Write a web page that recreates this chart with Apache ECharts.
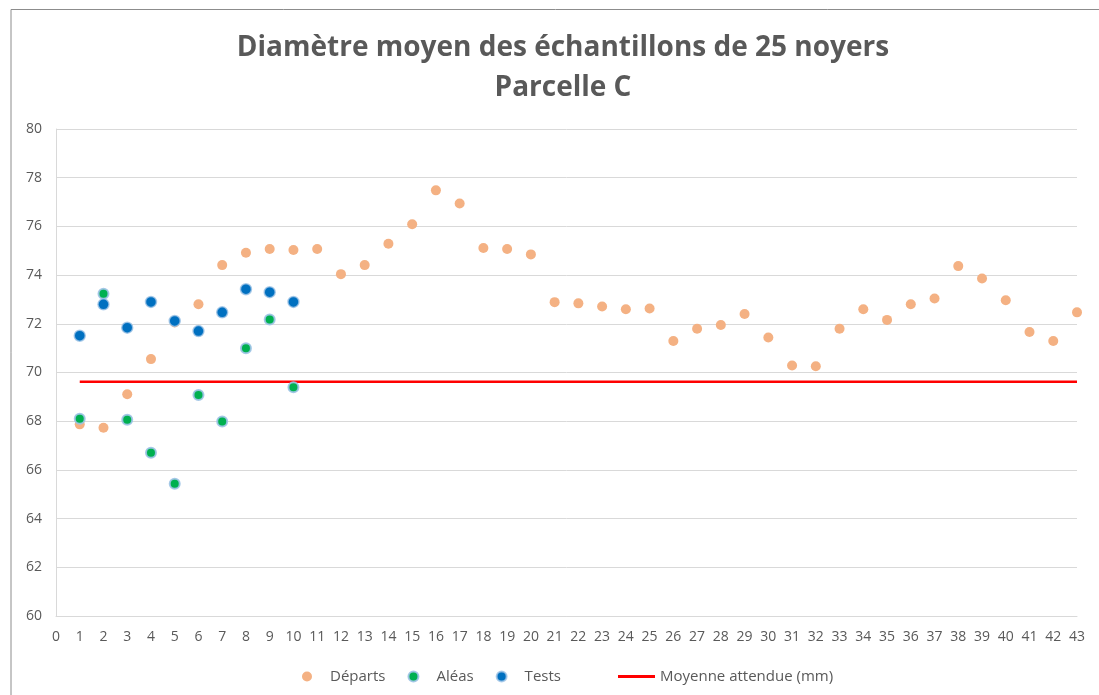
<!DOCTYPE html>
<html>
<head>
<meta charset="utf-8">
<script src="https://cdn.jsdelivr.net/npm/echarts@6/dist/echarts.min.js"></script>
<style>
  html, body { margin: 0; padding: 0; background: #fff; }
  #chart { width: 1099px; height: 695px; }
</style>
</head>
<body>
<div id="chart"></div>
<script>
// Diamètre moyen - parcelle C
const departsX = [1,2,3,4,5,6,7,8,9,10,11,12,13,14,15,16,17,18,19,20,21,22,23,24,25,26,27,28,29,30,31,32,33,34,35,36,37,38,39,40,41,42,43];
const departs = [67.87,67.73,69.11,70.55,72.05,72.80,74.41,74.92,75.07,75.03,75.07,74.04,74.41,75.29,76.09,77.48,76.94,75.11,75.07,74.85,72.89,72.84,72.71,72.60,72.63,71.29,71.80,71.95,72.40,71.44,70.29,70.26,71.80,72.60,72.16,72.80,73.04,74.37,73.86,72.97,71.66,71.29,72.47];
const aleasX = [1,2,3,4,5,6,7,8,9,10];
const aleas = [68.10,73.23,68.06,66.70,65.43,69.08,67.99,71.00,72.18,69.39];
const testsX = [1,2,3,4,5,6,7,8,9,10];
const tests = [71.51,72.80,71.84,72.90,72.12,71.70,72.47,73.42,73.30,72.90];
const moyenneX = [1, 43];
const moyenne = [69.62, 69.62];

const pairs = (xs, ys) => xs.map((x, i) => [x, ys[i]]);

const textColor = "#595959";
const font = "'Open Sans', 'Noto Sans', sans-serif";
const legendText = { fontFamily: font, fontSize: 15, color: textColor };

const chart = echarts.init(document.getElementById("chart"));
chart.setOption({
  animation: false,
  backgroundColor: "#fff",
  title: {
    text: "Diamètre moyen des échantillons de 25 noyers\nParcelle C",
    left: 558,
    textAlign: "center",
    top: 23,
    textStyle: {
      fontFamily: font,
      fontSize: 28,
      fontWeight: "bold",
      color: textColor,
      lineHeight: 40,
    },
  },
  graphic: [
    {
      type: "polyline",
      shape: { points: [[11, 700], [11, 9.5], [1110, 9.5]] },
      style: { stroke: "#8c8c8c", lineWidth: 1, fill: null },
    },
  ],
  grid: { left: 56, right: 22, top: 129, bottom: 79, containLabel: false },
  legend: [
    {
      left: 297,
      top: 664,
      itemGap: 22,
      itemWidth: 36,
      itemHeight: 10,
      textStyle: legendText,
      data: [
        { name: "Départs", icon: "circle" },
        { name: "Aléas", icon: "circle" },
        { name: "Tests", icon: "circle" },
      ],
    },
    {
      left: 613,
      top: 664,
      itemWidth: 37,
      itemHeight: 3,
      textStyle: legendText,
      data: [{ name: "Moyenne attendue (mm)", icon: "rect" }],
    },
  ],
  xAxis: {
    type: "value",
    min: 0,
    max: 43,
    interval: 1,
    axisLine: { show: true, lineStyle: { color: "#d9d9d9", width: 1 } },
    axisTick: { show: false },
    splitLine: { show: false },
    axisLabel: { color: textColor, fontFamily: font, fontSize: 14, margin: 14 },
  },
  yAxis: {
    type: "value",
    min: 60,
    max: 80,
    interval: 2,
    axisLine: { show: true, lineStyle: { color: "#d9d9d9", width: 1 } },
    axisTick: { show: false },
    splitLine: { show: true, lineStyle: { color: "#d9d9d9", width: 1 } },
    axisLabel: { color: textColor, fontFamily: font, fontSize: 14, margin: 14 },
  },
  series: [
    {
      name: "Moyenne attendue (mm)",
      type: "line",
      data: pairs(moyenneX, moyenne),
      symbol: "none",
      lineStyle: { color: "#ff0000", width: 2.5 },
      itemStyle: { color: "#ff0000" },
      z: 1,
    },
    {
      name: "Départs",
      type: "scatter",
      data: pairs(departsX, departs),
      symbolSize: 10,
      itemStyle: { color: "#f4b183", opacity: 1 },
      z: 2,
    },
    {
      name: "Aléas",
      type: "scatter",
      data: pairs(aleasX, aleas),
      symbolSize: 10,
      itemStyle: { color: "#00b050", borderColor: "rgba(157,195,230,0.9)", borderWidth: 2, opacity: 1 },
      z: 3,
    },
    {
      name: "Tests",
      type: "scatter",
      data: pairs(testsX, tests),
      symbolSize: 11,
      itemStyle: { color: "#0070c0", borderColor: "rgba(157,195,230,0.8)", borderWidth: 1.5, opacity: 1 },
      z: 4,
    },
  ],
});
</script>
</body>
</html>
